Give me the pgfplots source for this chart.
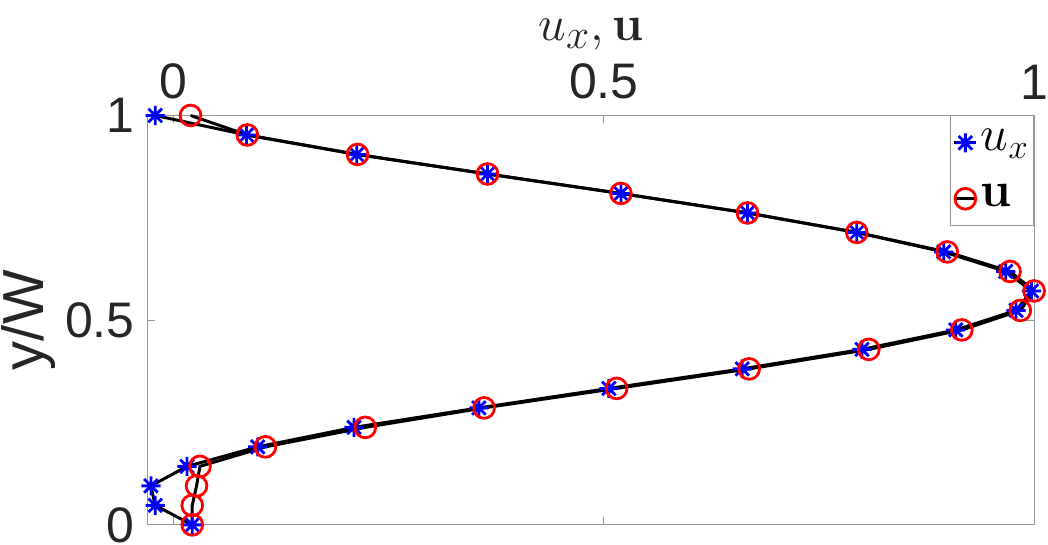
\documentclass[border=0pt]{standalone}
\usepackage[no-math]{fontspec}
\setmainfont{Liberation Sans}
\usepackage{pgfplots}
\pgfplotsset{compat=1.18}
\definecolor{mgray}{RGB}{38,38,38}
\definecolor{axgray}{RGB}{150,150,150}
\pgfdeclareplotmark{ast8}{%
  \pgfpathmoveto{\pgfpoint{0pt}{\pgfplotmarksize}}\pgfpathlineto{\pgfpoint{0pt}{-\pgfplotmarksize}}%
  \pgfpathmoveto{\pgfpoint{\pgfplotmarksize}{0pt}}\pgfpathlineto{\pgfpoint{-\pgfplotmarksize}{0pt}}%
  \pgfpathmoveto{\pgfpoint{0.707\pgfplotmarksize}{0.707\pgfplotmarksize}}\pgfpathlineto{\pgfpoint{-0.707\pgfplotmarksize}{-0.707\pgfplotmarksize}}%
  \pgfpathmoveto{\pgfpoint{0.707\pgfplotmarksize}{-0.707\pgfplotmarksize}}\pgfpathlineto{\pgfpoint{-0.707\pgfplotmarksize}{0.707\pgfplotmarksize}}%
  \pgfusepathqstroke}
\begin{document}
\begin{tikzpicture}
\begin{axis}[
  scale only axis, width=444pt, height=205pt,
  xmin=-0.03, xmax=1, ymin=0, ymax=1,
  xtick={0,0.5,1}, ytick={0,0.5,1},
  xticklabels={0,0.5,1}, yticklabels={0,0.5,1},
  xticklabel pos=upper,
  tick align=inside, major tick length=4pt,
  axis line style={axgray, line width=0.6pt},
  tick style={axgray, line width=0.5pt},
  ticklabel style={font=\fontsize{25}{30}\selectfont, text=mgray},
  xticklabel style={yshift=4.5pt, inner xsep=0pt},
  yticklabel style={xshift=-3pt, inner ysep=0pt},
  /pgf/number format/assume math mode=true,
  xlabel={$u_x,\mathbf{u}$}, ylabel={y/W},
  label style={font=\fontsize{29}{34}\selectfont, text=mgray},
  ylabel style={inner sep=1pt},
  clip=false,
  legend image code/.code={
    \draw[mark repeat=2,mark phase=2,#1] plot coordinates {(0pt,0pt) (5.5pt,0pt) (11pt,0pt)};
  },
  legend style={at={(1,1)}, anchor=north east, draw=axgray, fill=white,
    font=\fontsize{24}{28}\selectfont, inner xsep=1pt, inner ysep=4pt,
    nodes={inner sep=1.5pt, text height=12pt, text depth=4pt},
    row sep=9pt},
  legend cell align=left,
]
\addplot[black, line width=1.5pt, mark=ast8, mark size=4.8pt,
  mark options={blue, line width=1.4pt}] coordinates {
(0.022,0) (-0.021,0.0476) (-0.026,0.0952) (0.016,0.1429) (0.098,0.1905)
(0.210,0.2381) (0.355,0.2857) (0.506,0.3333) (0.661,0.3810) (0.800,0.4286)
(0.909,0.4762) (0.979,0.5238) (0.997,0.5714) (0.967,0.6190) (0.895,0.6667)
(0.794,0.7143) (0.667,0.7619) (0.520,0.8095) (0.365,0.8571) (0.213,0.9048)
(0.085,0.9524) (-0.021,1)
};
\addlegendentry{$u_x$}
\addplot[black, line width=1.5pt, mark=o, mark size=5.2pt,
  mark options={red, line width=1.4pt}] coordinates {
(0.022,0) (0.022,0.0476) (0.027,0.0952) (0.031,0.1429) (0.107,0.1905)
(0.223,0.2381) (0.361,0.2857) (0.515,0.3333) (0.669,0.3810) (0.808,0.4286)
(0.916,0.4762) (0.984,0.5238) (1.000,0.5714) (0.972,0.6190) (0.899,0.6667)
(0.794,0.7143) (0.667,0.7619) (0.520,0.8095) (0.365,0.8571) (0.214,0.9048)
(0.086,0.9524) (0.020,1)
};
\addlegendentry{$\mathbf{u}$}
\end{axis}
\path (current bounding box.north) ++(0,6pt);
\path (current bounding box.south) ++(0,-1pt);
\end{tikzpicture}
\end{document}
